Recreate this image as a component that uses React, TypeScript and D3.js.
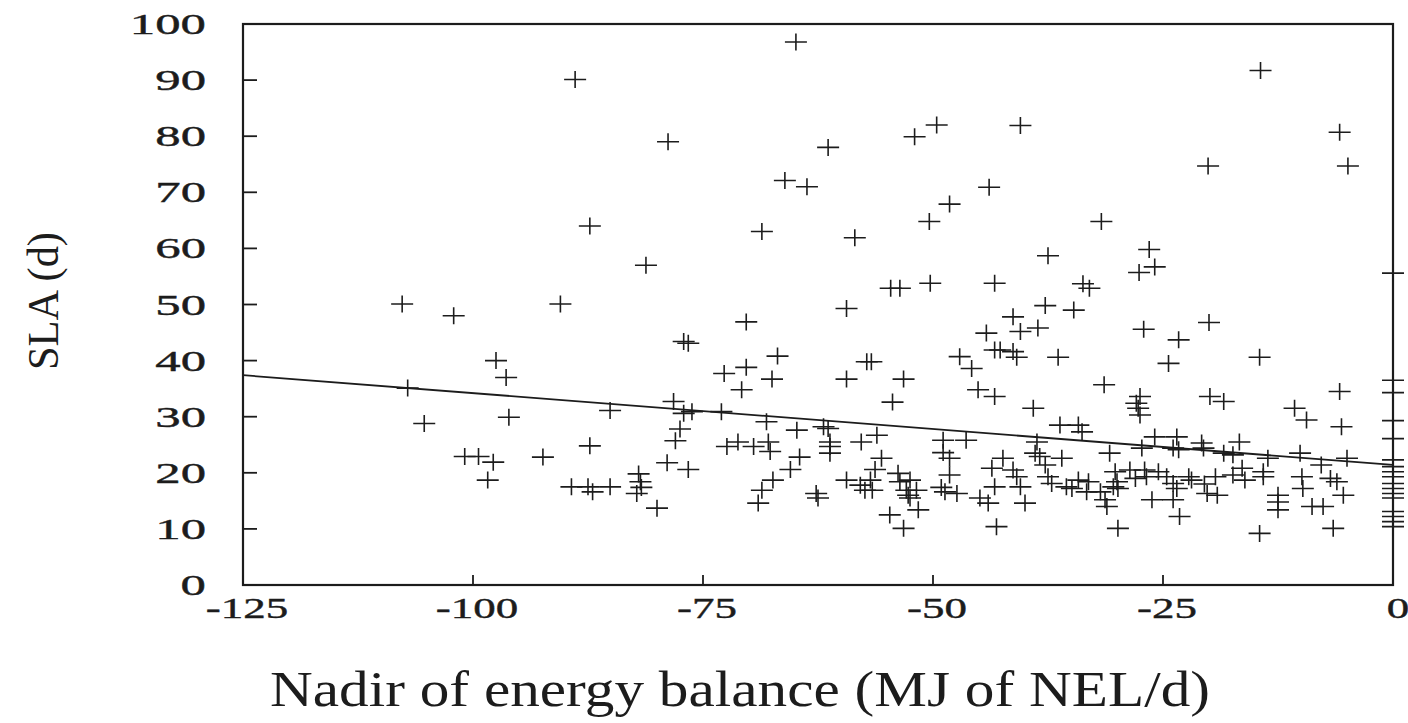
import { useEffect, useRef } from "react";
import * as d3 from "d3";

// values, [nadir of energy balance, SLA]
const ptsFarLeft = [
  [-107.7, 50.1], [-102.1, 48.0], [-90.5, 50.1], [-88.9, 90.1], [-87.3, 64.0],
  [-97.5, 40.0], [-96.4, 37.0], [-107.1, 35.1], [-105.3, 28.8], [-96.1, 29.9],
  [-85.1, 31.1], [-87.3, 24.8], [-100.9, 22.9], [-99.4, 22.9], [-97.8, 21.9],
  [-92.4, 22.8], [-98.4, 18.7], [-89.3, 17.5], [-87.5, 17.5], [-87.0, 16.6],
  [-85.1, 17.5], [-82.0, 19.8], [-81.8, 18.4], [-81.7, 17.4], [-82.2, 16.3],
  [-80.0, 13.7], [-81.2, 57.0],
];

const ptsMidLeft = [
  [-78.8, 79.0], [-64.9, 96.8], [-61.4, 78.0], [-66.1, 72.1], [-63.7, 71.0],
  [-68.6, 63.0], [-70.3, 46.9], [-77.1, 43.4], [-76.6, 43.1], [-66.9, 40.8],
  [-72.7, 37.7], [-70.3, 38.8], [-67.5, 36.7], [-70.8, 34.8], [-78.2, 32.7],
  [-77.1, 30.6], [-76.2, 30.9], [-73.0, 30.9], [-68.1, 29.1], [-64.8, 27.6],
  [-77.5, 27.8], [-78.0, 25.7], [-72.4, 24.7], [-71.2, 25.5], [-69.5, 24.7],
  [-67.9, 25.5], [-67.7, 23.8], [-64.5, 22.8], [-65.5, 20.6], [-67.4, 18.7],
  [-68.6, 16.9], [-69.0, 14.6], [-78.9, 21.8], [-76.6, 20.6], [-61.9, 28.2],
  [-61.4, 27.9], [-61.2, 25.5], [-61.2, 24.7], [-61.2, 23.5], [-62.7, 16.3],
  [-62.5, 15.5],
];

const ptsMiddle = [
  [-58.5, 61.9], [-52.0, 79.9], [-49.6, 82.0], [-43.9, 70.9], [-48.2, 67.9],
  [-50.4, 64.8], [-54.6, 52.9], [-53.6, 52.9], [-50.3, 53.8], [-43.3, 53.8],
  [-59.4, 49.3], [-57.2, 39.8], [-56.7, 39.8], [-44.2, 44.9], [-43.3, 41.9],
  [-47.1, 40.7], [-45.8, 38.6], [-45.1, 34.8], [-43.3, 33.6], [-59.4, 36.7],
  [-53.2, 36.7], [-54.4, 32.6], [-57.8, 25.5], [-56.1, 26.7], [-55.6, 22.6],
  [-56.3, 20.6], [-59.4, 18.7], [-57.9, 17.8], [-56.8, 18.7], [-56.6, 16.9],
  [-57.4, 16.9], [-53.8, 19.9], [-53.6, 18.4], [-52.5, 18.7], [-52.9, 16.9],
  [-52.7, 16.0], [-52.5, 15.5], [-51.8, 16.9], [-51.6, 13.4], [-54.7, 12.5],
  [-53.2, 10.1], [-48.9, 25.8], [-46.4, 25.8], [-48.9, 23.6], [-48.2, 22.6],
  [-48.2, 19.6], [-49.1, 17.4], [-48.7, 16.6], [-47.4, 16.3], [-44.9, 15.5],
  [-44.0, 14.6], [-43.6, 20.8], [-43.3, 17.5], [-43.1, 10.4], [-42.4, 22.6],
  [-40.5, 81.9], [-41.3, 47.8], [-40.5, 45.2], [-42.7, 41.9], [-41.3, 41.6],
  [-40.9, 40.6], [-41.3, 20.5], [-40.9, 19.3], [-40.5, 17.5], [-40.0, 14.6],
];

const ptsMidRight = [
  [-31.7, 64.8], [-37.5, 58.7], [-26.5, 59.8], [-25.9, 56.7], [-27.6, 55.7],
  [-33.7, 53.7], [-33.0, 52.9], [-37.8, 49.8], [-34.7, 49.0], [-38.6, 45.8],
  [-36.4, 40.6], [-27.1, 45.6], [-23.3, 43.7], [-24.4, 39.5], [-20.0, 46.8],
  [-31.4, 35.7], [-39.1, 31.5], [-27.5, 33.6], [-27.9, 32.4], [-27.7, 31.5],
  [-27.5, 30.3], [-19.9, 33.6], [-18.4, 32.7], [-36.2, 28.5], [-34.2, 28.5],
  [-33.8, 27.3], [-38.7, 25.5], [-38.9, 23.5], [-38.4, 22.9], [-37.8, 21.4],
  [-36.0, 22.6], [-37.5, 19.3], [-37.1, 18.1], [-30.8, 23.5], [-27.3, 24.4],
  [-25.9, 26.4], [-23.5, 26.4], [-23.9, 24.4], [-23.3, 24.1], [-34.2, 18.7],
  [-33.1, 18.4], [-33.3, 16.6], [-31.8, 16.6], [-31.3, 15.2], [-31.1, 14.0],
  [-35.5, 17.5], [-34.9, 17.2], [-30.2, 20.2], [-30.0, 18.4], [-29.9, 17.2],
  [-30.4, 17.5], [-28.6, 20.5], [-28.0, 19.0], [-27.0, 20.5], [-26.8, 19.3],
  [-25.5, 20.2], [-26.2, 15.2], [-23.9, 15.2], [-23.2, 12.2], [-29.9, 10.1],
  [-24.6, 19.3], [-23.9, 18.1], [-23.5, 17.2], [-22.2, 19.3], [-21.9, 18.7],
  [-20.5, 18.0], [-20.2, 16.3], [-19.3, 19.3], [-19.1, 16.0], [-20.8, 25.3],
  [-20.6, 24.4],
];

const ptsRight = [
  [-14.4, 91.7], [-20.1, 74.7], [-5.8, 80.7], [-4.9, 74.7], [-14.5, 40.6],
  [-5.8, 34.5], [-10.7, 31.5], [-9.4, 29.4], [-5.6, 28.2], [-18.4, 23.5],
  [-17.4, 23.2], [-16.7, 25.5], [-13.6, 22.6], [-10.1, 23.5], [-7.8, 21.4],
  [-5.0, 22.6], [-17.4, 19.6], [-16.4, 20.8], [-16.1, 18.7], [-14.1, 19.3],
  [-14.1, 20.2], [-12.5, 16.0], [-12.5, 14.8], [-12.5, 13.4], [-9.9, 19.3],
  [-9.8, 17.2], [-8.8, 14.0], [-7.6, 14.0], [-6.8, 19.0], [-6.1, 18.4],
  [-5.4, 16.0], [-6.5, 10.1], [-14.5, 9.2],
];

// cows sitting right on the 0 energy balance edge
const zeroSLA = [55.6, 36.5, 34.3, 29.3, 26.1, 22.3, 21.1, 20.2, 19.3, 18.1, 17.2, 16.3, 15.5, 13.1, 12.2, 11.3, 10.4];

const fitLine = [[-125, 37.4], [0, 21.4]];

const xTicks = [-125, -100, -75, -50, -25, 0];
const yTicks = [0, 10, 20, 30, 40, 50, 60, 70, 80, 90, 100];

export default function App() {
  const ref = useRef(null);

  useEffect(() => {
    if (!ref.current) return;
    const w = 1408,
      h = 723;
    const svg = d3.select(ref.current);
    svg.selectAll("*").remove();
    svg.attr("width", w).attr("height", h).attr("viewBox", `0 0 ${w} ${h}`);

    const x = d3.scaleLinear().domain([-125, 0]).range([243, 1393]);
    const y = d3.scaleLinear().domain([0, 100]).range([585, 24]);
    const ink = "#1c1c1c";
    const serif = "'Liberation Serif', 'Times New Roman', serif";

    svg.append("rect").attr("width", w).attr("height", h).attr("fill", "#fff");

    // frame
    svg
      .append("rect")
      .attr("x", x(-125))
      .attr("y", y(100))
      .attr("width", x(0) - x(-125))
      .attr("height", y(0) - y(100))
      .attr("fill", "none")
      .attr("stroke", ink)
      .attr("stroke-width", 2.2);

    // inward ticks
    svg
      .selectAll("line.yt")
      .data(yTicks)
      .join("line")
      .attr("class", "yt")
      .attr("x1", x(-125))
      .attr("x2", x(-125) + 14)
      .attr("y1", (d) => y(d))
      .attr("y2", (d) => y(d))
      .attr("stroke", ink)
      .attr("stroke-width", 1.8);

    svg
      .selectAll("line.xt")
      .data(xTicks)
      .join("line")
      .attr("class", "xt")
      .attr("x1", (d) => x(d))
      .attr("x2", (d) => x(d))
      .attr("y1", y(0))
      .attr("y2", y(0) - 10)
      .attr("stroke", ink)
      .attr("stroke-width", 1.8);

    // tick labels, the scan is stretched sideways so the glyphs are too
    svg
      .selectAll("text.yl")
      .data(yTicks)
      .join("text")
      .attr("class", "yl")
      .attr("transform", (d) => `translate(206,${y(d) + 10}) scale(1.75,1)`)
      .attr("text-anchor", "end")
      .attr("font-family", serif)
      .attr("font-size", 29)
      .attr("fill", ink)
      .attr("stroke", ink)
      .attr("stroke-width", 0.4)
      .text((d) => d);

    svg
      .selectAll("text.xl")
      .data(xTicks)
      .join("text")
      .attr("class", "xl")
      .attr("transform", (d) => `translate(${x(d) + (d === 0 ? 5 : 4)},${y(0) + 33}) scale(1.55,1)`)
      .attr("text-anchor", "middle")
      .attr("font-family", serif)
      .attr("font-size", 29)
      .attr("fill", ink)
      .attr("stroke", ink)
      .attr("stroke-width", 0.4)
      .text((d) => d);

    // regression line
    svg
      .append("path")
      .attr("d", d3.line().x((d) => x(d[0])).y((d) => y(d[1]))(fitLine))
      .attr("fill", "none")
      .attr("stroke", ink)
      .attr("stroke-width", 1.8);

    const pts = [...ptsFarLeft, ...ptsMidLeft, ...ptsMiddle, ...ptsMidRight, ...ptsRight, ...zeroSLA.map((v) => [0, v])];
    const hw = 11,
      hh = 8.5;
    svg
      .append("g")
      .selectAll("path")
      .data(pts)
      .join("path")
      .attr("d", (d) => {
        const cx = x(d[0]),
          cy = y(d[1]);
        return `M${cx - hw},${cy}H${cx + hw}M${cx},${cy - hh}V${cy + hh}`;
      })
      .attr("stroke", ink)
      .attr("stroke-width", 1.6)
      .attr("fill", "none");

    svg
      .append("text")
      .attr("x", 740)
      .attr("y", 706)
      .attr("text-anchor", "middle")
      .attr("font-family", serif)
      .attr("font-size", 50)
      .attr("textLength", 940)
      .attr("lengthAdjust", "spacingAndGlyphs")
      .attr("fill", ink)
      .text("Nadir of energy balance (MJ of NEL/d)");

    svg
      .append("text")
      .attr("transform", "translate(58,301) rotate(-90)")
      .attr("text-anchor", "middle")
      .attr("font-family", serif)
      .attr("font-size", 44)
      .attr("textLength", 138)
      .attr("lengthAdjust", "spacingAndGlyphs")
      .attr("fill", ink)
      .text("SLA (d)");
  }, []);

  return <svg ref={ref} style={{ position: "absolute", left: 0, top: 0 }} />;
}
